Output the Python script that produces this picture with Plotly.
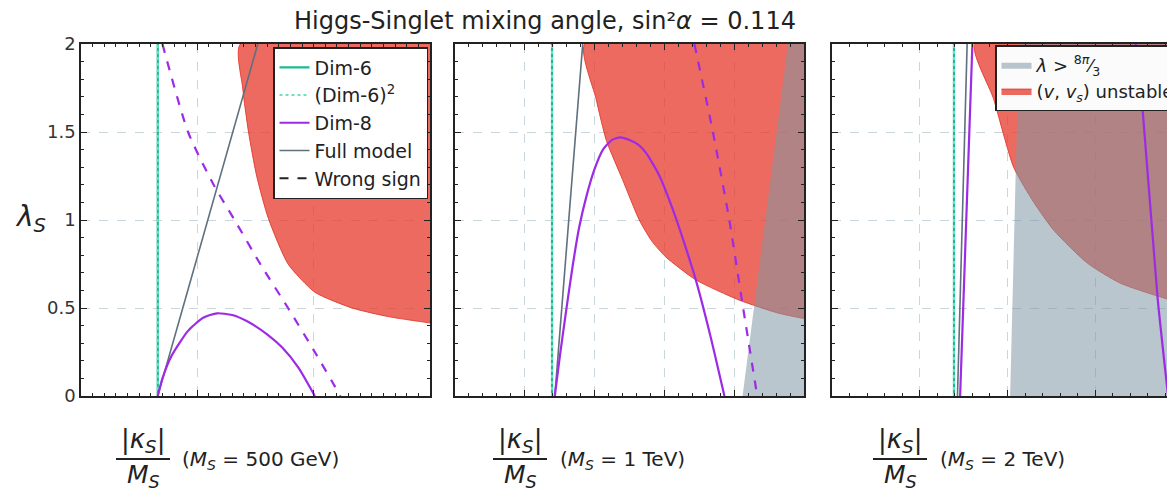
import plotly.graph_objects as go

W, H = 1175, 494
OFF = 8  # page body margin of the browser: figure pixel = page pixel - OFF

# ---------------- data ----------------
# Panel 1 : M_S = 500 GeV   (x axis in arbitrary units 0..3)
p1_dim6_x = 0.66
p1_full_x = [0.66, 1.52]
p1_full_y = [0.0, 2.0]
p1_dim8_x = [0.66, 0.70, 0.78, 0.92, 1.05, 1.17, 1.30, 1.44, 1.60, 1.73, 1.87, 2.01]
p1_dim8_y = [0.0, 0.10, 0.23, 0.37, 0.445, 0.47, 0.46, 0.42, 0.35, 0.275, 0.16, 0.0]
p1_wrong_x = [0.70, 0.92, 1.14, 1.32, 1.55, 1.78, 2.01, 2.23]
p1_wrong_y = [2.0, 1.50, 1.20, 1.00, 0.74, 0.50, 0.25, 0.0]
p1_unst_x = [1.37, 1.39, 1.44, 1.51, 1.61, 1.78, 2.01, 2.33, 2.65, 3.0]
p1_unst_y = [2.0, 1.75, 1.50, 1.25, 1.01, 0.75, 0.59, 0.50, 0.45, 0.415]

# Panel 2 : M_S = 1 TeV   (0..5)
p2_dim6_x = 1.39
p2_full_x = [1.43, 1.83]
p2_full_y = [0.0, 2.0]
p2_dim8_x = [1.43, 1.50, 1.58, 1.69, 1.78, 1.88, 2.00, 2.12, 2.25, 2.37, 2.50, 2.62,
             2.74, 2.93, 3.12, 3.30, 3.45, 3.66, 3.86]
p2_dim8_y = [0.0, 0.22, 0.45, 0.75, 0.96, 1.13, 1.29, 1.40, 1.455, 1.47, 1.455, 1.43,
             1.38, 1.25, 1.06, 0.85, 0.66, 0.34, 0.0]
p2_wrong_x = [3.43, 3.69, 3.93, 4.12, 4.33]
p2_wrong_y = [2.0, 1.51, 1.00, 0.52, 0.0]
p2_unst_x = [1.86, 2.02, 2.17, 2.40, 2.64, 2.82, 3.02, 3.45, 4.07, 4.64, 5.0]
p2_unst_y = [2.0, 1.69, 1.45, 1.23, 1.00, 0.88, 0.79, 0.66, 0.545, 0.47, 0.44]
p2_pert_x = [4.12, 4.77]
p2_pert_y = [0.0, 2.0]

# Panel 3 : M_S = 2 TeV   (0..4, cut at the right edge of the picture)
p3_dim6_x = 1.39
p3_full_x = [1.43, 1.54]
p3_full_y = [0.0, 2.0]
p3_dim8_x = [1.46, 1.60, None, 3.46, 3.54, 3.71, 3.83]
p3_dim8_y = [0.0, 2.0, None, 2.0, 1.625, 0.56, 0.0]
p3_unst_x = [1.63, 1.84, 2.07, 2.30, 2.53, 2.91, 3.29, 3.92, 4.0]
p3_unst_y = [2.0, 1.69, 1.30, 1.10, 0.94, 0.755, 0.64, 0.536, 0.527]
p3_pert_x = [2.03, 2.13]
p3_pert_y = [0.0, 2.0]

x_ranges = [(0, 3.0), (0, 5.0), (0, 4.0)]
y_range = (0, 2.0)
y_ticks = [0, 0.5, 1, 1.5, 2]
y_ticklabels = ["0", "0.5", "1", "1.5", "2"]
mass_labels = ["(<i>M<sub>S</sub></i> = 500 GeV)", "(<i>M<sub>S</sub></i> = 1 TeV)",
               "(<i>M<sub>S</sub></i> = 2 TeV)"]

# ---------------- styles ----------------
GREEN = "#1db992"
GREEN_LT = "#6fe0c0"
PURPLE = "#9d2be6"
SLATE = "#5f707e"
RED = "rgba(231,56,43,0.75)"
GRAY = "rgba(128,152,164,0.55)"
FONT = "DejaVu Sans"

fig = go.Figure()

def px2x(px):
    return (px - OFF) / W

def py2y(py):
    return 1 - (py - OFF) / H

panels = [
    dict(dim6=p1_dim6_x, fx=p1_full_x, fy=p1_full_y, d8x=p1_dim8_x, d8y=p1_dim8_y,
         wx=p1_wrong_x, wy=p1_wrong_y, ux=p1_unst_x, uy=p1_unst_y, px=None, py=None),
    dict(dim6=p2_dim6_x, fx=p2_full_x, fy=p2_full_y, d8x=p2_dim8_x, d8y=p2_dim8_y,
         wx=p2_wrong_x, wy=p2_wrong_y, ux=p2_unst_x, uy=p2_unst_y, px=p2_pert_x, py=p2_pert_y),
    dict(dim6=p3_dim6_x, fx=p3_full_x, fy=p3_full_y, d8x=p3_dim8_x, d8y=p3_dim8_y,
         wx=None, wy=None, ux=p3_unst_x, uy=p3_unst_y, px=p3_pert_x, py=p3_pert_y),
]

for i, p in enumerate(panels):
    k = "" if i == 0 else str(i + 1)
    xa, ya = "x" + k, "y" + k
    xmax = x_ranges[i][1]
    ymax = y_range[1]
    # unstable region: boundary curve, then closed along the top-right corner
    fig.add_trace(go.Scatter(x=list(p["ux"]) + [xmax, xmax, p["ux"][0]],
                             y=list(p["uy"]) + [p["uy"][-1], ymax, ymax],
                             fill="toself", fillcolor=RED, mode="lines",
                             line=dict(color="rgba(231,56,43,0.9)", width=1,
                                       shape="spline", smoothing=0.6),
                             xaxis=xa, yaxis=ya, hoverinfo="skip",
                             name="(<i>v</i>, <i>v<sub>s</sub></i>) unstable",
                             legend="legend2", legendgroup="u", legendrank=2,
                             showlegend=(i == 2)))
    # perturbativity region
    if p["px"] is not None:
        fig.add_trace(go.Scatter(x=list(p["px"]) + [xmax, xmax],
                                 y=list(p["py"]) + [ymax, 0],
                                 fill="toself", fillcolor=GRAY, mode="lines",
                                 line=dict(width=0, color=GRAY), xaxis=xa, yaxis=ya,
                                 hoverinfo="skip",
                                 name="<i>λ</i> > <sup>8<i>π</i></sup>⁄<sub>3</sub>",
                                 legend="legend2", legendgroup="g", legendrank=1,
                                 showlegend=(i == 2)))
    # Dim-6 and (Dim-6)^2
    fig.add_trace(go.Scatter(x=[p["dim6"], p["dim6"]], y=[0, ymax], mode="lines",
                             line=dict(color=GREEN, width=2.2), xaxis=xa, yaxis=ya,
                             name="Dim-6", legendgroup="a", legendrank=1,
                             showlegend=(i == 0)))
    fig.add_trace(go.Scatter(x=[p["dim6"], p["dim6"]], y=[0, ymax], mode="lines",
                             line=dict(color=GREEN_LT, width=2, dash="dot"), xaxis=xa, yaxis=ya,
                             name="(Dim-6)<sup>2</sup>", legendgroup="b", legendrank=2,
                             showlegend=(i == 0)))
    # Full model
    fig.add_trace(go.Scatter(x=p["fx"], y=p["fy"], mode="lines",
                             line=dict(color=SLATE, width=1.6), xaxis=xa, yaxis=ya,
                             name="Full model", legendgroup="d", showlegend=(i == 0),
                             legendrank=4))
    # Dim-8
    fig.add_trace(go.Scatter(x=p["d8x"], y=p["d8y"], mode="lines",
                             line=dict(color=PURPLE, width=2.2, shape="spline", smoothing=0.6),
                             xaxis=xa, yaxis=ya, connectgaps=False,
                             name="Dim-8", legendgroup="c", showlegend=(i == 0), legendrank=3))
    if p["wx"] is not None:
        fig.add_trace(go.Scatter(x=p["wx"], y=p["wy"], mode="lines",
                                 line=dict(color=PURPLE, width=2.2, dash="dash",
                                           shape="spline", smoothing=0.6),
                                 xaxis=xa, yaxis=ya, showlegend=False, hoverinfo="skip"))

# legend entry for "Wrong sign"
fig.add_trace(go.Scatter(x=[None], y=[None], mode="lines",
                         line=dict(color="#222", width=2, dash="dash"),
                         name="Wrong sign", legendgroup="e", legendrank=5))

# ---------------- axes ----------------
x_domains = [(81, 430), (455, 804), (832, 1183)]
y_dom = [py2y(396), py2y(44)]
x_minor = [0.1, 0.2, 0.2]

layout = dict(width=W, height=H, margin=dict(l=0, r=0, t=0, b=0, autoexpand=False),
              paper_bgcolor="white", plot_bgcolor="white", showlegend=True,
              font=dict(family=FONT, color="#222"))

for i in range(3):
    k = "" if i == 0 else str(i + 1)
    common = dict(showline=True, mirror="ticks", linecolor="#222", linewidth=1.6,
                  ticks="inside", ticklen=6, tickwidth=1.2, tickcolor="#222",
                  showgrid=True, gridcolor="#c9d6dc", gridwidth=1, griddash="dash",
                  zeroline=False, fixedrange=True, automargin=False)
    layout["xaxis" + k] = dict(common,
                               domain=[px2x(x_domains[i][0]), min(1.0, px2x(x_domains[i][1]))],
                               range=list(x_ranges[i]), anchor="y" + k, tick0=0, dtick=1,
                               showticklabels=False,
                               minor=dict(ticks="inside", ticklen=3, dtick=x_minor[i],
                                          tick0=0, tickcolor="#222", showgrid=False))
    layout["yaxis" + k] = dict(common, domain=y_dom, range=list(y_range), anchor="x" + k,
                               tickvals=y_ticks, ticktext=y_ticklabels,
                               showticklabels=(i == 0),
                               tickfont=dict(family=FONT, size=18, color="#333"),
                               minor=dict(ticks="inside", ticklen=3, dtick=0.1, tick0=0,
                                          tickcolor="#222", showgrid=False))

layout["legend"] = dict(x=px2x(428), y=py2y(47), xanchor="right", yanchor="top",
                        bgcolor="white", bordercolor="#222", borderwidth=1.5,
                        font=dict(family=FONT, size=19, color="#222"),
                        tracegroupgap=3, traceorder="normal", itemwidth=30)
layout["legend2"] = dict(x=px2x(995), y=py2y(45), xanchor="left", yanchor="top",
                         bgcolor="#fbfbfb", bordercolor="#222", borderwidth=1.5,
                         font=dict(family=FONT, size=18, color="#222"),
                         tracegroupgap=6, traceorder="normal", itemwidth=30)

fig.update_layout(**layout)

# ---------------- text ----------------
ann = []
ann.append(dict(text="Higgs-Singlet mixing angle, sin²<i>α</i> = 0.114",
                x=px2x(545), y=py2y(21), xref="paper", yref="paper", showarrow=False,
                font=dict(family=FONT, size=24, color="#222"), xanchor="center", yanchor="middle"))
ann.append(dict(text="<i>λ<sub>S</sub></i>", x=px2x(30), y=py2y(218), xref="paper",
                yref="paper", showarrow=False, font=dict(family=FONT, size=28, color="#222"),
                xanchor="center", yanchor="middle"))
frac_centers = [143, 520, 900]
label_left = [180, 558, 938]
shapes = []
for i in range(3):
    c = frac_centers[i]
    ann.append(dict(text="<i>|κ<sub>S</sub>|</i>", x=px2x(c), y=py2y(440), xref="paper",
                    yref="paper", showarrow=False,
                    font=dict(family=FONT, size=26, color="#222"),
                    xanchor="center", yanchor="middle"))
    ann.append(dict(text="<i>M<sub>S</sub></i>", x=px2x(c), y=py2y(476), xref="paper",
                    yref="paper", showarrow=False,
                    font=dict(family=FONT, size=25, color="#222"),
                    xanchor="center", yanchor="middle"))
    ann.append(dict(text=mass_labels[i], x=px2x(label_left[i]), y=py2y(460), xref="paper",
                    yref="paper", showarrow=False,
                    font=dict(family=FONT, size=20, color="#222"),
                    xanchor="left", yanchor="middle"))
    shapes.append(dict(type="line", xref="paper", yref="paper",
                       x0=px2x(c - 27), x1=px2x(c + 27), y0=py2y(459), y1=py2y(459),
                       line=dict(color="#222", width=2)))

fig.update_layout(annotations=ann, shapes=shapes)

fig.write_html("out.html")
